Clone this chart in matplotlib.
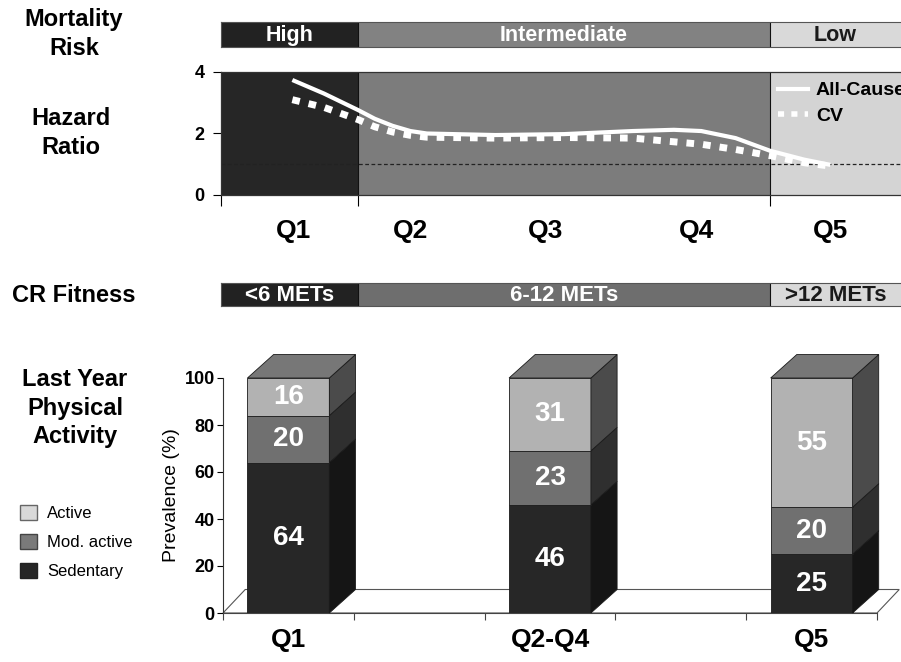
import numpy as np
import matplotlib.pyplot as plt
from matplotlib.patches import Patch
from matplotlib.lines import Line2D

plt.rcParams['font.family'] = ['Liberation Sans', 'DejaVu Sans']

# --- hazard ratio curves (x in quintile units, 0 = left edge of Q1) ---
hr_x_all = [0.52, 0.75, 1.0, 1.12, 1.25, 1.38, 1.5, 2.0, 2.5, 3.0, 3.3, 3.5, 3.75, 4.0, 4.25, 4.44]
hr_all = [3.74, 3.3, 2.76, 2.48, 2.25, 2.08, 2.0, 1.95, 1.98, 2.08, 2.12, 2.08, 1.85, 1.44, 1.15, 0.98]
hr_x_cv = [0.52, 0.75, 1.0, 1.12, 1.25, 1.38, 1.5, 2.0, 2.5, 3.0, 3.5, 3.75, 4.0, 4.25, 4.44]
hr_cv = [3.1, 2.85, 2.45, 2.22, 2.05, 1.94, 1.88, 1.85, 1.87, 1.85, 1.65, 1.48, 1.28, 1.05, 0.94]

quintiles = ['Q1', 'Q2', 'Q3', 'Q4', 'Q5']
risk_groups = ['High', 'Intermediate', 'Low']
fitness_groups = ['<6 METs', '6-12 METs', '>12 METs']
group_bounds = [0, 1, 4, 5]

# --- last year physical activity (%) ---
pa_groups = ['Q1', 'Q2-Q4', 'Q5']
sedentary = [64, 46, 25]
mod_active = [20, 23, 20]
active = [16, 31, 55]

# layout / style
W, H = 901, 662
XMAX = 4.955
q_label_x = [0.525, 1.384, 2.368, 3.468, 4.44]
hr_bg = ['#262626', '#7c7c7c', '#d4d4d4']
risk_bg = ['#222222', '#828282', '#d9d9d9']
fit_bg = ['#222222', '#6e6e6e', '#d9d9d9']
band_txt = ['white', 'white', '#1a1a1a']


def px_axes(fig, x0, y0, x1, y1):
    # axes from pixel box (top-left origin)
    return fig.add_axes([x0 / W, 1 - y1 / H, (x1 - x0) / W, (y1 - y0) / H])


def band(ax, colors, labels, size):
    ax.set_xlim(0, XMAX)
    ax.set_ylim(0, 1)
    for i, (c, lab) in enumerate(zip(colors, labels)):
        ax.axvspan(group_bounds[i], group_bounds[i + 1], color=c, lw=0)
        mid = (group_bounds[i] + min(group_bounds[i + 1], XMAX)) / 2
        ax.text(mid, 0.47, lab, color=band_txt[i], ha='center', va='center',
                fontsize=size, fontweight='bold')
    for b in group_bounds[1:3]:
        ax.axvline(b, color='#111111', lw=0.8)
    ax.set_xticks([])
    ax.set_yticks([])
    for s in ax.spines.values():
        s.set_color('#555555')
        s.set_linewidth(0.8)
    ax.spines['right'].set_visible(False)


fig = plt.figure(figsize=(W / 100, H / 100), dpi=100)

# ---- Mortality risk band ----
ax_risk = px_axes(fig, 221, 22, 901, 47)
band(ax_risk, risk_bg, risk_groups, 15.5)

# ---- Hazard ratio panel ----
ax_hr = px_axes(fig, 221, 72, 901, 195)
ax_hr.set_xlim(0, XMAX)
ax_hr.set_ylim(0, 4)
for i, c in enumerate(hr_bg):
    ax_hr.axvspan(group_bounds[i], group_bounds[i + 1], color=c, lw=0, zorder=0)
for b in group_bounds[1:3]:
    ax_hr.axvline(b, color='#111111', lw=0.8, zorder=1)
ax_hr.axhline(1, color='#222222', lw=0.9, ls=(0, (3, 2)), zorder=2)
ax_hr.plot(hr_x_all, hr_all, color='white', lw=3, solid_capstyle='butt',
           solid_joinstyle='round', zorder=4)
ax_hr.plot(hr_x_cv, hr_cv, color='white', lw=5, ls=(0, (1.1, 1.3)), zorder=3)
ax_hr.set_yticks([0, 2, 4])
ax_hr.set_yticklabels(['0', '2', '4'], fontsize=13, fontweight='bold')
ax_hr.set_xticks(group_bounds[:3])
ax_hr.set_xticklabels([])
ax_hr.tick_params(axis='x', length=8, width=0.8, direction='out')
ax_hr.tick_params(axis='y', length=6, width=0.8, direction='out', pad=6)
ax_hr.spines['right'].set_visible(False)
for s in ['left', 'top', 'bottom']:
    ax_hr.spines[s].set_color('#333333')
    ax_hr.spines[s].set_linewidth(0.9)
for pos, q in zip(q_label_x, quintiles):
    ax_hr.text(pos, -1.18, q, ha='center', va='center', fontsize=19,
               fontweight='bold', clip_on=False)
hr_handles = [Line2D([], [], color='white', lw=3),
              Line2D([], [], color='white', lw=4, ls=(0, (1.1, 1.3)))]
ax_hr.legend(hr_handles, ['All-Cause', 'CV'], loc='upper left',
             bbox_to_anchor=(0.819, 0.92), frameon=False,
             prop=dict(weight='bold', size=14), handlelength=1.55,
             labelspacing=0.42, handletextpad=0.4, borderpad=0,
             borderaxespad=0)

# ---- CR fitness band ----
ax_fit = px_axes(fig, 221, 283, 901, 306)
band(ax_fit, fit_bg, fitness_groups, 16)

# ---- Physical activity 3D stacked bars ----
ax_pa = px_axes(fig, 223, 378, 877, 613)
ax_pa.set_xlim(-0.5, 4.5)
ax_pa.set_ylim(0, 100)
xpos = [0, 2, 4]
bw = 0.626
dx, dy = 0.2, 10
fdx = 0.17

ax_pa.fill([-0.5, -0.5 + fdx, 4.5 + fdx, 4.5], [0, dy, dy, 0],
           facecolor='white', edgecolor='#555555', lw=0.8, clip_on=False, zorder=1)

layers = [(sedentary, '#272727', '#151515'),
          (mod_active, '#707070', '#2f2f2f'),
          (active, '#b2b2b2', '#4b4b4b')]
bottoms = np.zeros(3)
for vals, front, side in layers:
    ax_pa.bar(xpos, vals, bottom=bottoms, width=bw, color=front,
              edgecolor='#1a1a1a', lw=0.6, zorder=3)
    for x, b, v in zip(xpos, bottoms, vals):
        xr = x + bw / 2
        ax_pa.fill([xr, xr + dx, xr + dx, xr], [b, b + dy, b + v + dy, b + v],
                   facecolor=side, edgecolor='#1a1a1a', lw=0.6, zorder=3,
                   clip_on=False)
        ax_pa.text(x, b + v / 2, str(v), color='white', ha='center', va='center',
                   fontsize=20, fontweight='bold', zorder=5)
    bottoms = bottoms + np.array(vals)
for x, top in zip(xpos, bottoms):
    xl, xr = x - bw / 2, x + bw / 2
    ax_pa.fill([xl, xl + dx, xr + dx, xr], [top, top + dy, top + dy, top],
               facecolor='#777777', edgecolor='#1a1a1a', lw=0.6, zorder=3,
               clip_on=False)

ax_pa.set_xticks(np.arange(-0.5, 5, 1))
ax_pa.set_xticklabels([])
ax_pa.set_yticks(range(0, 101, 20))
ax_pa.set_yticklabels([str(v) for v in range(0, 101, 20)], fontsize=13,
                      fontweight='bold')
ax_pa.tick_params(axis='x', length=5, width=0.8, color='#444444')
ax_pa.tick_params(axis='y', length=4, width=0.8, pad=2)
ax_pa.spines['top'].set_visible(False)
ax_pa.spines['right'].set_visible(False)
ax_pa.spines['left'].set_color('#333333')
ax_pa.spines['bottom'].set_color('#444444')
ax_pa.set_ylabel('Prevalence (%)', fontsize=14, labelpad=3)
for x, lab in zip(xpos, pa_groups):
    ax_pa.text(x, -11.5, lab, ha='center', va='center', fontsize=19,
               fontweight='bold', clip_on=False)

# ---- left-hand row titles ----
def row_title(x, y, s):
    fig.text(x / W, 1 - y / H, s, ha='center', va='center', fontsize=17,
             fontweight='bold', linespacing=1.32)

row_title(74, 34, 'Mortality\nRisk')
row_title(71, 133, 'Hazard\nRatio')
fig.text(12 / W, 1 - 295 / H, 'CR Fitness', ha='left', va='center',
         fontsize=17, fontweight='bold')
row_title(75, 408, 'Last Year\nPhysical\nActivity')

legend_handles = [Patch(facecolor='#d9d9d9', edgecolor='#666666'),
                  Patch(facecolor='#7a7a7a', edgecolor='#444444'),
                  Patch(facecolor='#262626', edgecolor='#222222')]
fig.legend(legend_handles, ['Active', 'Mod. active', 'Sedentary'],
           loc='center left', bbox_to_anchor=(12 / W, 1 - 542 / H),
           frameon=False, fontsize=12, handlelength=1.0, handleheight=1.0,
           labelspacing=0.78, handletextpad=0.6, borderpad=0)

fig.savefig('out.png', dpi=100)
